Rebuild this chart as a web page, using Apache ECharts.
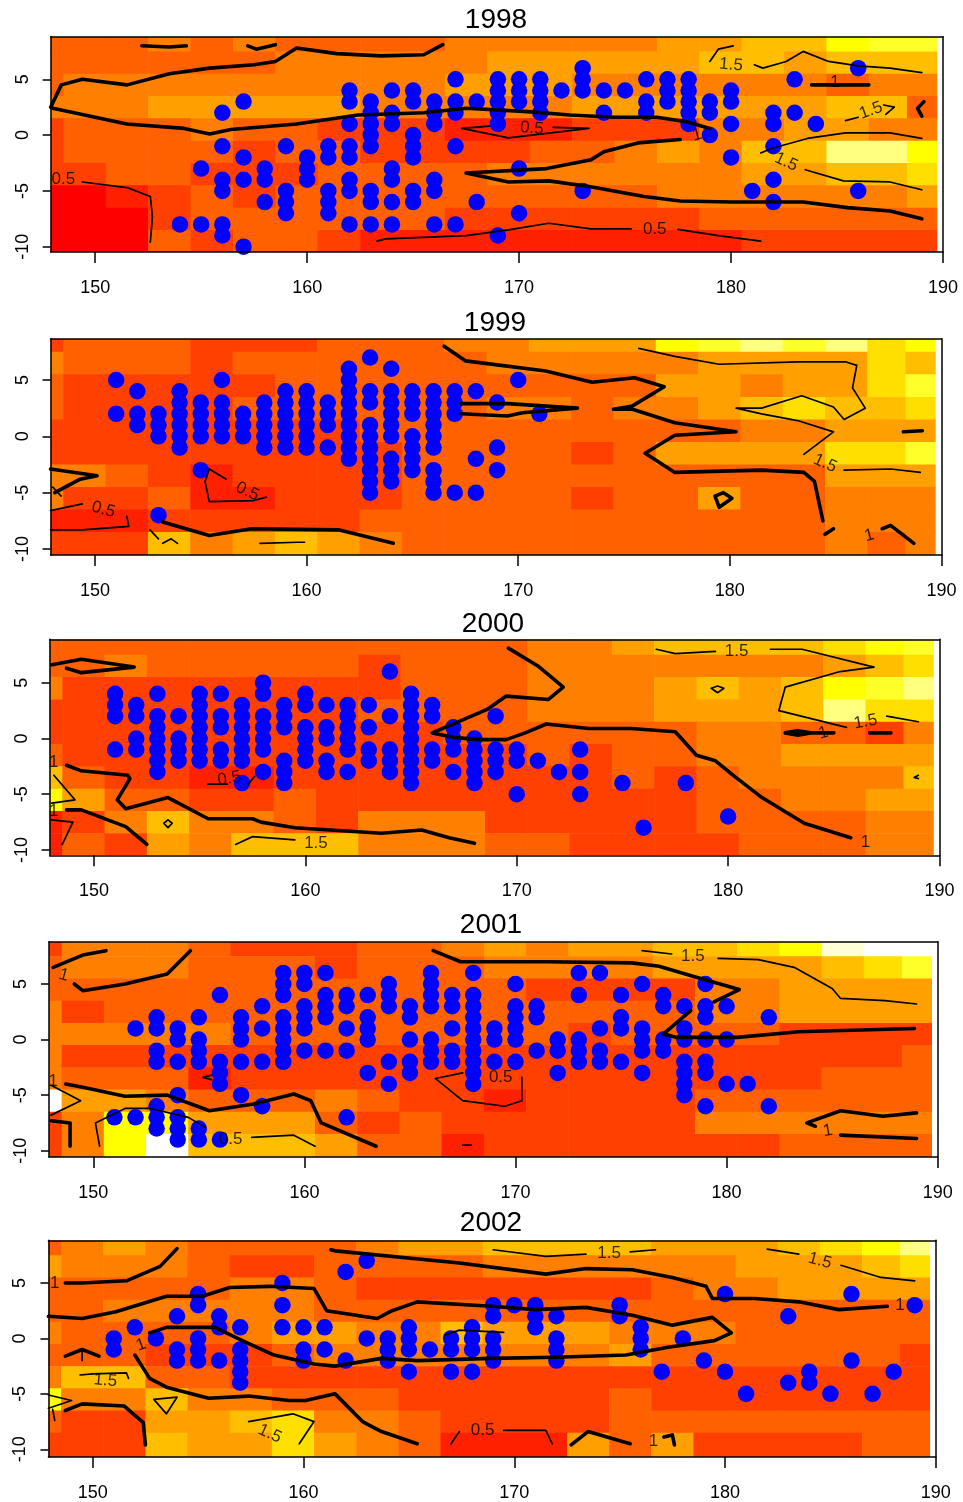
<!DOCTYPE html>
<html><head><meta charset="utf-8">
<style>html,body{margin:0;padding:0;background:#fff}#c{width:963px;height:1502px}</style>
<script src="https://cdn.jsdelivr.net/npm/echarts@6/dist/echarts.min.js"></script>
</head><body><div id="c"></div>
<script>
const years = ['1998','1999','2000','2001','2002'];
const xTicks = [150,160,170,180,190];
const yTicks = [-10,-5,0,5];
// heat.colors(12) followed by white
const palette = ['#FF0000','#FF2000','#FF4000','#FF6000','#FF8000','#FF9F00','#FFBF00','#FFDF00','#FFFF00','#FFFF2A','#FFFF80','#FFFFD5','#FFFFFF'];
const lonEdges = [147.9,148.5,150.5,152.5,154.5,156.5,158.5,160.5,162.5,164.5,166.5,168.5,170.5,172.5,174.5,176.5,178.5,180.5,182.5,184.5,186.5,188.3,189.73];
const latEdges = [9.5,7.5,5.5,3.5,1.5,-0.5,-2.5,-4.5,-6.5,-8.5,-11];

const cells1998 = [
[3,3,3,4,3,4,3,3,3,3,4,4,4,4,4,5,5,6,6,8,9,9],
[3,3,3,3,3,3,4,4,4,4,4,5,5,5,5,5,6,6,5,6,6,6],
[3,4,4,4,4,4,4,4,4,4,5,5,5,4,4,4,4,4,4,3,4,4],
[4,4,4,5,5,5,5,5,4,4,4,4,4,5,5,5,5,5,5,6,6,3],
[2,3,3,3,4,3,3,2,2,2,1,1,1,2,2,2,4,4,5,5,4,4],
[2,3,3,3,3,2,3,3,2,2,2,2,3,3,4,5,4,6,6,10,10,8],
[2,2,3,3,2,2,2,3,3,3,3,4,4,4,4,4,4,5,5,6,6,7],
[0,0,1,2,3,2,3,3,3,3,3,3,3,3,3,4,4,4,4,4,4,5],
[0,0,0,2,3,3,3,3,3,3,2,2,2,2,2,2,3,3,3,3,3,3],
[0,0,0,3,2,3,3,2,1,1,1,1,1,1,1,1,1,2,2,2,2,2]];
const cells1999 = [
[2,3,3,3,2,2,2,3,3,3,4,4,5,5,5,8,9,10,9,10,7,8],
[4,3,3,3,2,3,3,3,3,3,3,4,4,4,4,4,5,5,5,5,7,6],
[3,2,2,2,2,2,3,3,3,3,3,3,3,3,3,5,5,4,5,5,7,9],
[3,2,2,2,2,3,3,3,3,3,3,4,4,3,4,4,5,6,7,6,6,7],
[2,2,2,2,2,2,2,2,3,3,3,3,3,3,3,3,3,4,4,5,5,5],
[2,2,2,2,2,2,2,2,2,3,3,3,3,2,3,5,5,5,5,7,7,9],
[4,4,3,2,1,2,2,2,2,3,3,3,3,3,3,3,3,3,3,5,5,5],
[4,2,2,3,1,1,2,2,2,3,3,3,3,2,3,3,5,3,3,4,4,4],
[1,1,1,2,2,2,2,2,3,3,3,3,3,3,3,3,3,3,3,4,4,4],
[2,2,2,6,4,5,6,5,4,3,3,3,3,3,3,3,3,3,3,4,3,4]];
const cells2000 = [
[3,3,3,3,3,3,3,3,3,3,3,3,4,4,5,6,6,6,6,7,8,9],
[3,3,4,3,3,3,3,3,2,3,3,3,4,4,4,4,4,4,4,5,6,7],
[4,2,2,2,2,2,2,2,2,3,3,3,4,4,4,5,6,5,6,8,9,10],
[2,2,2,2,2,2,2,2,3,3,3,3,4,4,4,5,5,5,6,10,7,7],
[2,2,2,2,2,2,2,2,2,2,3,3,3,3,3,3,4,4,3,3,2,4],
[3,2,2,2,2,2,2,2,2,2,2,2,3,2,3,3,4,4,5,5,5,5],
[6,3,2,2,1,1,2,2,2,2,2,2,2,2,3,2,3,4,4,4,4,6],
[8,5,3,3,2,2,3,2,2,2,2,2,2,2,2,2,3,3,4,4,5,5],
[1,2,4,6,4,4,3,2,4,4,4,2,2,2,2,2,3,3,3,3,4,4],
[1,3,2,5,4,6,6,6,4,4,4,3,3,2,2,2,2,3,3,3,4,4]];
const cells2001 = [
[2,4,4,4,3,2,2,2,3,3,4,5,4,5,5,6,6,7,8,11,12,12],
[3,4,4,4,3,3,3,2,3,3,3,4,4,4,4,5,5,5,5,6,7,9],
[3,3,3,3,3,3,3,3,3,3,3,3,2,2,2,2,4,4,5,5,5,5],
[4,2,3,3,3,3,3,3,3,3,3,3,3,3,3,3,4,4,5,5,5,5],
[4,4,4,4,4,3,3,3,3,3,3,3,3,2,3,3,3,3,2,2,2,2],
[4,2,2,2,2,2,2,2,2,2,2,2,2,2,2,2,2,2,2,2,2,3],
[4,3,3,3,1,2,2,2,2,2,2,2,2,2,2,2,2,2,2,3,3,3],
[12,5,5,4,3,3,3,4,3,2,2,1,2,2,2,2,3,3,3,3,3,3],
[2,4,8,8,5,5,5,3,2,3,2,2,2,2,2,2,4,4,4,4,4,4],
[2,4,8,12,6,6,6,5,3,3,1,2,2,2,2,2,2,2,3,3,3,3]];
const cells2002 = [
[3,4,5,4,3,3,3,3,4,5,5,6,6,6,6,5,5,5,6,7,8,10],
[5,4,4,4,3,2,2,3,3,3,3,4,4,4,4,4,4,5,5,5,6,7],
[3,3,3,3,3,4,4,3,2,2,2,2,2,2,2,3,4,4,5,5,5,5],
[3,3,4,4,4,4,4,3,3,3,3,3,3,3,3,3,3,3,3,3,3,3],
[4,3,3,3,3,4,5,5,4,4,6,5,5,5,4,4,4,3,3,3,3,3],
[3,3,3,2,2,2,3,4,4,4,4,4,4,4,5,3,3,3,3,3,3,2],
[4,6,6,3,3,2,2,2,2,2,2,2,2,2,2,2,2,2,2,2,2,2],
[8,4,4,6,4,4,3,3,3,2,2,2,2,2,3,2,2,2,2,2,2,2],
[3,2,2,5,5,6,7,4,4,3,2,2,2,2,3,3,3,3,3,3,3,3],
[2,2,2,6,5,5,7,5,4,3,1,1,1,5,3,5,2,2,2,2,3,3]];

// blue points: longitude -> latitudes
const pts1998 = {154:[-8],155:[-3,-8],156:[2,-1,-4,-5,-8,-9],157:[3,-2,-4,-10],158:[-3,-4,-6],159:[-1,-5,-6,-7],160:[-2,-3,-4],161:[-1,-2,-5,-6,-7],162:[4,3,1,-1,-2,-4,-5,-8],163:[3,2,1,0,-1,-5,-6,-8],164:[4,2,1,-3,-4,-6,-8],165:[4,3,0,-1,-2,-5,-6],166:[3,2,1,-4,-5,-8],167:[5,3,2,-1,-8],168:[3,-6],169:[5,4,3,2,1,-9],170:[5,4,3,-3,-7],171:[5,4,3,2],172:[4],173:[6,5,4,-5],174:[4,2],175:[4],176:[5,3,2],177:[5,4,3],178:[5,4,3,2,1],179:[3,2,0],180:[4,3,1,-2],181:[-5],182:[2,1,-1,-4,-6],183:[5,2],184:[1],186:[6,-5]};
const pts1999 = {151:[5,2],152:[4,2,1],153:[2,1,0,-7],154:[4,3,2,1,0,-1],155:[3,2,1,0,-3],156:[5,3,2,1,0],157:[2,1,0],158:[3,2,1,0,-1],159:[4,3,2,1,0,-1],160:[4,3,2,1,0,-1],161:[3,2,1,-1],162:[6,5,4,3,2,1,0,-1,-2],163:[7,4,3,1,0,-1,-2,-3,-4,-5],164:[6,4,3,2,1,0,-2,-3,-4],165:[4,3,2,0,-1,-2,-3],166:[4,3,2,1,0,-1,-3,-4,-5],167:[4,3,2,-5],168:[4,-2,-5],169:[3,-1,-3],170:[5],171:[2]};
const pts2000 = {151:[4,3,2,-1],152:[3,2,0,-1],153:[4,2,1,0,-1,-2,-3],154:[2,0,-1,-2],155:[4,3,2,1,0,-1,-2],156:[4,2,1,-1,-2],157:[3,2,1,0,-1,-2,-4],158:[5,4,2,1,0,-1,-3],159:[3,2,1,-2,-3,-4],160:[4,3,1,0,-1,-2],161:[3,1,0,-2,-3],162:[3,2,1,0,-1,-3],163:[3,1,-1,-2],164:[6,2,-1,-2,-3],165:[4,3,2,1,0,-1,-2,-3,-4],166:[3,2,-1,-2],167:[1,0,-1,-3],168:[0,-1,-2,-3,-4],169:[2,-1,-2,-3],170:[-1,-2,-5],171:[-2],172:[-3],173:[-1,-3,-5],175:[-4],176:[-8],178:[-4],180:[-7]};
const pts2001 = {151:[-7],152:[1,-7],153:[2,1,-1,-2,-6,-7,-8],154:[1,0,-2,-5,-7,-8,-9],155:[2,0,-1,-2,-8,-9],156:[4,-2,-3,-4,-9],157:[2,1,0,-2,-5],158:[3,1,-2,-6],159:[6,5,4,2,1,0,-1,-2],160:[6,5,3,2,1,-1],161:[6,4,3,2,-1],162:[4,3,1,-1,-7],163:[4,2,1,0,-3],164:[5,4,3,-2,-4],165:[3,2,0,-2,-3],166:[6,5,4,3,0,-1,-2],167:[4,3,1,-1,-2],168:[6,4,3,2,1,0,-1,-2,-3,-4],169:[1,0,-2],170:[5,3,2,1,0,-2],171:[3,2,-1],172:[0,-1,-3],173:[6,4,0,-1,-2],174:[6,1,-1,-2],175:[4,2,1,-2],176:[5,1,0,-1,-3],177:[4,3,0,-1],178:[3,1,0,-2,-3,-4,-5],179:[5,3,2,0,-2,-3,-6],180:[3,0,-4],181:[-4],182:[2,-6]};
const pts2002 = {151:[0,-1],152:[1],153:[0],154:[2,-1,-2],155:[4,3,0,-1,-2],156:[2,1,-2],157:[1,-1,-2,-3,-4],159:[5,3,1],160:[1,-1,-2],161:[1,-1],162:[6,-2],163:[7,0],164:[0,-1,-2],165:[1,0,-1,-3],166:[-1],167:[0,-1,-3],168:[1,0,-1,-3],169:[3,2,0,-1,-2],170:[3],171:[3,2,1],172:[2,0,-1,-2],175:[3,2],176:[1,0,-1],177:[-3],178:[0],179:[-2],180:[4,-3],181:[-5],183:[2,-4],184:[-3,-4],185:[-5],186:[4,-2],187:[-5],188:[-3],189:[3]};

// contour lines, [lon, lat]
const thick1998 = [
[[152.2,8.0],[153.5,7.9],[154.3,8.0]],
[[157.2,8.0],[157.6,7.7],[158.5,8.1]],
[[147.9,2.5],[148.4,4.5],[149.4,5.0],[151.5,4.5],[153.5,5.5],[155.4,6.0],[157.5,6.3],[158.5,6.6],[159.5,7.8],[161.4,7.3],[163.5,7.1],[165.5,7.2],[166.4,8.1]],
[[148,2.4],[151.5,1],[154.2,0.6],[155.4,0.1],[156.4,0.5],[159.5,1],[162.4,1.8],[165.5,2],[167.5,2.4],[170.4,2.1],[172.4,1.8],[174.5,1.6],[176.5,1.6],[177.9,1.2],[179,0.6]],
[[177.6,-0.4],[175.6,-0.7],[174,-1.5],[173.4,-2.2],[171.3,-3],[167.5,-3.4],[169.5,-4.2],[171.4,-4.1],[173.3,-4.6],[175.9,-5.5],[177.6,-5.9],[180,-6],[183.4,-6],[185.5,-6.5],[187.5,-6.8],[189,-7.5]],
[[183.8,4.5],[186.5,4.5]],
[[189.1,3],[188.8,2.4],[189,1.7]]];
const thin1998 = [
[[168.6,0.8],[167.3,0.6],[169.5,-0.25],[173.3,0.6],[171.6,0.7]],
[[149.4,-4.2],[151.5,-4.7],[152.6,-5.5],[152.7,-7.3],[152.6,-9.6]],
[[163.3,-9.5],[163.7,-9.3],[167.5,-9],[169.5,-8.5],[171.4,-7.9],[173.4,-8.4],[175.3,-8.4]],
[[177.5,-8.45],[179.4,-9],[181.4,-9.5]],
[[179,6.6],[179.4,7.7],[180.1,8]],
[[181.1,6.3],[181.5,6],[182.6,6.6],[183.4,7.5],[184.6,6.6],[186,6.2],[187.5,6],[189,5.6]],
[[185.4,1.3],[186,1.6]],
[[187.2,2.7],[187.7,2.5],[187.3,1.85]],
[[181.4,-1.6],[181.9,-1.2],[183.6,-0.3],[185.4,0.2],[187.5,0.2],[189,-0.3]],
[[183.5,-3.1],[185.3,-4.1],[187.5,-4.2],[189,-4.9]]];
const labels1998 = [['0.5',170.6,0.6,-5],['0.5',148.5,-4,0],['0.5',176.4,-8.45,0],['1.5',180,6.3,-5],['1.5',186.6,2.2,20],['1.5',182.6,-2.4,-25],['1',178.4,0,15],['1',184.9,4.7,0]];

const thick1999 = [
[[166.5,8],[167.5,6.7],[171.3,5.8],[173.5,4.8],[175.5,5.2],[176.9,4.4],[175.4,2.7],[174.5,2.4],[175.4,2.4],[177.4,1.2],[180.3,0.4],[177.4,0.1],[176,-1.5],[177.4,-3.2],[181.5,-3],[183.5,-3.2],[184,-4],[184.4,-7.5]],
[[167.3,2.9],[169.5,2.9],[172.8,2.5],[170.2,2.1],[169.5,1.8],[167.3,2]],
[[147.9,-2.9],[150.1,-3.5],[149.3,-3.8],[148.1,-5]],
[[153.2,-7.6],[155.4,-8.8],[157.4,-8.2],[161.5,-8.3],[164.1,-9.5]],
[[187.2,-8.2],[187.6,-7.9],[188.7,-9.5]],
[[188.2,0.4],[189.1,0.5]],
[[184.5,-8.7],[184.9,-8.2]],
[[179.3,-5.3],[179.7,-5],[180.1,-5.5],[179.5,-6.3],[179.3,-5.3]]];
const thin1999 = [
[[175.7,7.8],[177.4,7.1],[179.5,6.4],[183.2,6.6],[185.5,6.6],[186,6.3],[185.8,4.3],[186.4,2.5],[185.4,1.5],[184.9,2.6],[183.4,3.6],[181.5,2.5],[180.3,2.5],[181.5,2],[183.2,1.4],[184.9,0.4],[183.5,-1.6]],
[[185.4,-3],[187.6,-2.9],[189,-3.2]],
[[156.2,-3.8],[155.4,-2.9],[155.2,-4],[155.4,-5.8],[157.5,-5.7],[158.1,-5.4]],
[[147.9,-6.6],[149.4,-6]],
[[151.5,-7.1],[151.6,-8],[149.4,-8.3],[147.9,-8.3]],
[[157.8,-9.5],[159.6,-9.4],[159.9,-9.4]],
[[152.6,-8.3],[153,-9.1]],
[[153.2,-9.5],[153.6,-9.1],[153.9,-9.5]],
[[148,-4.5],[148.4,-5.3]]];
const labels1999 = [['1.5',184.5,-2.4,-25],['0.5',157.2,-4.9,-25],['0.5',150.4,-6.5,-15],['1',186.6,-8.8,15]];

const thick2000 = [
[[169.6,8.1],[171,6.5],[172.2,4.6],[171.5,3.5],[169.5,3.8],[168.6,2.6],[167,1.3],[166,0.5],[167,0.1],[168.2,-0.1],[169.5,-0.1],[170.4,0.5],[171.4,1.3],[173.4,0.9],[175.4,0.9],[177.5,0.6],[178.5,-1.5],[179.4,-2],[180.3,-3.4],[181.6,-5.3],[183.6,-7.6],[185.8,-8.9]],
[[148,6.6],[149.4,7.1],[151.9,6.4],[149.4,5.9],[148.7,6.3]],
[[148.7,-2.4],[149.4,-2.9],[151.6,-3.3],[151.7,-3.6],[151.1,-5.5],[151.5,-6.3],[153.5,-5.3],[155.4,-7.2],[157.5,-7.2],[157.9,-7.5],[159.5,-8],[163.6,-8.5],[165.5,-8.2],[166.8,-8.9],[168,-9.4]],
[[148.7,-6.4],[149.4,-6.4],[151.5,-7.9],[152.5,-9.5]],
[[182.7,0.5],[183.3,0.7],[183.9,0.5],[183.3,0.3],[182.7,0.5],[185,0.5]],
[[186.7,0.5],[187.7,0.5]]];
const thin2000 = [
[[176.6,8],[177.5,7.6],[179.4,7.8]],
[[182,8],[183.5,8],[186.9,6.4],[185.3,6],[182.7,4.6],[182.4,2.5],[185.6,1]],
[[187.5,2],[189,1.5]],
[[148.1,-3.3],[149.1,-5.5],[148,-5.8]],
[[148,-7.3],[149,-7.5],[148.5,-9.5]],
[[153.5,-7.3],[153.7,-7.6],[153.5,-8],[153.3,-7.6],[153.5,-7.3]],
[[155.4,-4.1],[156.3,-4.1]],
[[157.3,-4.1],[157.6,-3.4]],
[[156.7,-9.5],[157.5,-8.8],[159.5,-9.1]],
[[179.2,4.5],[179.5,4.7],[179.8,4.5],[179.5,4.1],[179.2,4.5]],
[[189,-3.3],[188.8,-3.5],[189,-3.6]]];
const labels2000 = [['1',186.5,-9.3,0],['1.5',180.4,7.85,0],['1.5',186.5,1.5,10],['1',148.1,-2.1,0],['1',148.1,-6.5,0],['0.5',156.4,-3.6,10],['1.5',160.5,-9.4,0],['1',184.5,0.5,15]];

const thick2001 = [
[[148.1,6.5],[149.5,7.6],[150.6,8]],
[[149.1,5],[149.5,4.4],[151.5,5],[153.5,5.9],[154.6,8]],
[[166.1,8],[167.4,7],[171.5,7],[175.5,6.9],[176.8,6.6],[178.4,5.7],[180.6,4.5],[179.4,3.4]],
[[178.3,2.6],[177,0.5],[177.6,0.2],[180.5,0.2],[183.4,0.7],[188.9,1]],
[[148.7,-4],[149.5,-4.3],[151.5,-5.1],[153.5,-5],[155.5,-6.4],[157.6,-5.8],[159.5,-4.9],[160.3,-5.5],[160.8,-7.5],[163.4,-9.6]],
[[148,-7.3],[148.9,-7.5],[148.9,-9.6]],
[[189,-6.6],[187.4,-6.9],[185.4,-6.4],[183.8,-7.5],[184.2,-7.8]],
[[185.4,-8.6],[189,-8.9]]];
const thin2001 = [
[[176,8],[177.4,7.7]],
[[179.6,7.3],[181.5,7.2],[183.2,6.5],[185,4.6],[185.4,3.7],[187.5,3.5],[189,3.2]],
[[148,-4.1],[149.4,-5.5],[148,-6.8]],
[[167.5,-3],[166.2,-3.5],[167.5,-5.5],[169.5,-6],[170.3,-5.5],[170.3,-3.4]],
[[150.3,-9.6],[150.1,-7.5],[151.5,-6.2],[152.7,-6.2],[154.5,-7],[155.3,-7.9]],
[[157.5,-8.8],[159.5,-8.6],[160.5,-9.6]],
[[155.6,-3.2],[155.2,-3.4],[155.6,-3.6]],
[[167.5,-9.5],[167.9,-9.5]]];
const labels2001 = [['1',148.6,5.8,-15],['1',148.1,-3.8,0],['1',184.8,-8.2,10],['1.5',178.4,7.5,0],['0.5',169.3,-3.4,0],['0.5',156.5,-9,0]];

const thick2002 = [
[[154,8.1],[153.2,6.5],[151.6,5.2],[149.5,5],[148.7,5]],
[[147.9,2],[149.5,1.8],[151.1,2.4],[153.5,3.8],[155.2,3.8],[156.5,4.6],[158.4,4.7],[160.5,4.5],[161.1,2.5],[163.5,1.8],[164.2,2.5],[165.4,3.3],[168.9,2.9],[171,2.6],[173.4,2.8],[175.6,2.1],[177.5,1.2],[179.4,1.9],[180.3,0.5],[179.5,-0.2],[177.3,-0.8],[175.3,-1.5],[172,-1.7],[168.9,-1.8],[165.4,-2],[163.7,-1.8],[161.5,-2.5],[160.5,-2.3],[158.6,-1.5],[157.1,-0.2],[155.8,1],[153.5,1],[152.7,0.5]],
[[161.3,8],[161.5,7.9],[167.4,6.8],[171.5,5.8],[173.4,6.3],[175.6,6.2],[177.5,5.5],[179.1,4.7],[179.4,3.6],[181.4,3.6],[183.5,3.3],[185.4,2.6],[187.7,2.9]],
[[152,-1.5],[152.7,-3.6],[153.5,-4.4],[155.5,-5.4],[157.4,-5.2],[159.3,-5.6],[160.1,-5.6],[161.5,-5],[162.8,-7.5],[163.7,-8.4],[165.4,-9.5]],
[[148.7,-6.5],[149.5,-5.9],[151.5,-6.1],[152.4,-7.6],[152.5,-9.6]],
[[148.7,-1.6],[149.5,-1],[150.3,-1.6]],
[[172.7,-9.6],[173.5,-8.4],[175.5,-9.5]],
[[177.1,-8.9],[177.5,-8.7],[177.6,-9.6]]];
const thin2002 = [
[[169,8],[171.5,7.4],[173.4,7.6]],
[[175.5,7.8],[176.7,8]],
[[182,8.05],[183.5,7.6]],
[[185.5,6.6],[187.4,5.5],[189,5.2]],
[[166.7,0.3],[167.4,0.75],[169.5,0.55]],
[[149.4,-3.3],[150,-3.2],[151.6,-3.1],[151.7,-3.6]],
[[152.9,-5.5],[154,-5.3],[153.5,-6.8],[152.9,-5.5]],
[[147.9,-5.1],[149,-5.6],[147.9,-6.3]],
[[148.1,-6.4],[148.2,-7.4]],
[[157.4,-7.5],[159.5,-6.8],[160.5,-7.5],[159.8,-9.5]],
[[167,-9.5],[167.4,-8.4]],
[[169.5,-8.3],[171.5,-8.3],[171.8,-9.5]],
[[149.5,-1],[149.5,-2]]];
const labels2002 = [['1',148.2,5,0],['1',188.3,3,0],['1',176.6,-9.3,0],['1',152.3,-0.6,20],['1.5',174.5,7.65,0],['1.5',184.5,7,-15],['1.5',150.6,-3.8,-5],['1.5',158.4,-8.6,-25],['0.5',168.5,-8.3,0]];

const cellSets = [cells1998,cells1999,cells2000,cells2001,cells2002];
const ptSets = [pts1998,pts1999,pts2000,pts2001,pts2002];
const thickSets = [thick1998,thick1999,thick2000,thick2001,thick2002];
const thinSets = [thin1998,thin1999,thin2000,thin2001,thin2002];
const labelSets = [labels1998,labels1999,labels2000,labels2001,labels2002];

// page layout of each panel (pixels)
const layout = [
 {x150:95.2,x190:943,y5:79.3,y10:246.7,top:36.7,bottom:252,tx:496,ty:20},
 {x150:95,x190:941.4,y5:380,y10:549,top:338.7,bottom:555,tx:495,ty:323},
 {x150:94,x190:939.5,y5:682.7,y10:850,top:639.3,bottom:855.3,tx:493,ty:624},
 {x150:93.3,x190:937.7,y5:984,y10:1150.7,top:941.7,bottom:1157,tx:491,ty:925},
 {x150:92.7,x190:935.8,y5:1283,y10:1449.3,top:1240.3,bottom:1457,tx:491,ty:1223}];
const XMIN = 147.9, XMAX = 190;
const FONT = '"Liberation Sans", Arial, sans-serif';

const grid=[], xAxis=[], yAxis=[], series=[], title=[];
layout.forEach((L,i)=>{
  const pp=(L.x190-L.x150)/40, py=(L.y10-L.y5)/15;
  const yMax=5+(L.y5-L.top)/py, yMin=-10-(L.bottom-L.y10)/py;
  grid.push({left:L.x150-(150-XMIN)*pp,width:(XMAX-XMIN)*pp,top:L.top,height:L.bottom-L.top,containLabel:false});
  title.push({text:years[i],left:L.tx,top:L.ty,padding:0,textAlign:'center',textVerticalAlign:'middle',
    textStyle:{fontFamily:FONT,fontSize:28,fontWeight:'normal',color:'#000'}});
  const line={show:true,onZero:false,lineStyle:{color:'#000',width:1.5}};
  const base={type:'value',gridIndex:i,min:null,max:null,splitLine:{show:false},z:10};
  xAxis.push({...base,min:XMIN,max:XMAX,position:'bottom',axisLine:line,
    axisTick:{show:true,length:11,customValues:xTicks,lineStyle:{color:'#000',width:1.5}},
    axisLabel:{show:true,customValues:xTicks,margin:27,fontSize:18,fontFamily:FONT,color:'#000',hideOverlap:false,showMinLabel:true,showMaxLabel:true,formatter:v=>String(v)}});
  xAxis.push({...base,min:XMIN,max:XMAX,position:'top',axisLine:line,axisTick:{show:false},axisLabel:{show:false}});
  yAxis.push({...base,min:yMin,max:yMax,position:'left',axisLine:line,
    axisTick:{show:true,length:8,customValues:yTicks,lineStyle:{color:'#000',width:1.5}},
    axisLabel:{show:true,customValues:yTicks,margin:19,rotate:90,fontSize:18,fontFamily:FONT,color:'#000',hideOverlap:false,formatter:v=>String(v)}});
  yAxis.push({...base,min:yMin,max:yMax,position:'right',axisLine:line,axisTick:{show:false},axisLabel:{show:false}});
  const xi=i*2, yi=i*2;
  const cellData=[];
  cellSets[i].forEach((row,r)=>row.forEach((lv,c)=>cellData.push([c,r,lv])));
  series.push({type:'custom',xAxisIndex:xi,yAxisIndex:yi,silent:true,animation:false,data:cellData,
    encode:{x:0,y:1},clip:true,
    renderItem:(p,api)=>{
      const c=api.value(0), r=api.value(1), lv=api.value(2);
      const a=api.coord([lonEdges[c],Math.min(latEdges[r],yMax)]);
      const b=api.coord([lonEdges[c+1],Math.max(latEdges[r+1],yMin)]);
      return {type:'rect',shape:{x:a[0],y:a[1],width:b[0]-a[0]+(c<21?0.6:0),height:b[1]-a[1]+(r<9?0.6:0)},style:{fill:palette[lv]}};
    }});
  const addLines=(set,w)=>set.forEach(d=>series.push({type:'line',xAxisIndex:xi,yAxisIndex:yi,data:d,showSymbol:false,symbol:'none',
    silent:true,animation:false,clip:false,lineStyle:{color:'#000',width:w,join:'round',cap:'round'}}));
  addLines(thinSets[i],1.7);
  addLines(thickSets[i],3.6);
  series.push({type:'scatter',xAxisIndex:xi,yAxisIndex:yi,silent:true,animation:false,symbolSize:0,clip:false,
    data:labelSets[i].map(l=>({value:[l[1],l[2]],label:{show:true,position:'inside',formatter:l[0],rotate:l[3],fontSize:17,fontFamily:'"Liberation Sans",sans-serif',color:'#000'}}))});
  const dots=[];
  Object.keys(ptSets[i]).forEach(k=>ptSets[i][k].forEach(v=>dots.push([+k,v])));
  series.push({type:'scatter',xAxisIndex:xi,yAxisIndex:yi,silent:true,animation:false,symbol:'circle',symbolSize:16.5,clip:false,
    itemStyle:{color:'#0000FF',opacity:1},data:dots});
});
const chart=echarts.init(document.getElementById('c'),null,{renderer:'canvas',width:963,height:1502});
chart.setOption({animation:false,backgroundColor:'#fff',title,grid,xAxis,yAxis,series});
</script></body></html>
